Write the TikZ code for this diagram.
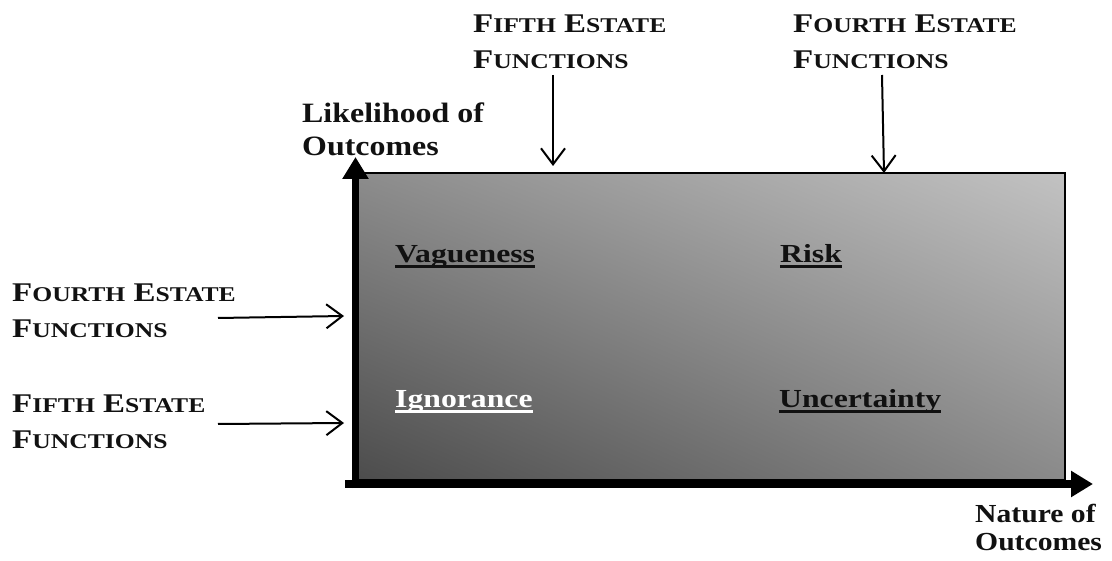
\documentclass[tikz,border=0pt]{standalone}
\usepackage{fontspec}
\usetikzlibrary{arrows.meta,shadings}
\setmainfont{Liberation Serif}
% widened serif faces for the labels
\newfontfamily\wideserif[FakeStretch=1.22]{Liberation Serif}
\newfontfamily\axisserif[FakeStretch=1.14]{Liberation Serif}
% underlined word: a rule drawn just below the baseline, in the text colour
\newcommand\underword[1]{\setbox0\hbox{#1}\rlap{\vrule width\wd0 height -2.4pt depth 4.9pt}\box0}
% small capitals built from a full-size initial and smaller capitals
\newcommand\smcap[2]{#1{\fontsize{21}{36}\selectfont#2}}

\definecolor{shadeUL}{HTML}{8C8C8C}
\definecolor{shadeUR}{HTML}{C2C2C2}
\definecolor{shadeLL}{HTML}{4C4C4C}
\definecolor{shadeLR}{HTML}{8A8A8A}
\definecolor{ink}{HTML}{111111}

\begin{document}
\begin{tikzpicture}[x=1pt,y=-1pt,
  estate/.style={font=\wideserif\bfseries\fontsize{27}{36}\selectfont,
    align=left, inner sep=0pt, anchor=north west, text=ink},
  axislabel/.style 2 args={font=\axisserif\bfseries\fontsize{#1}{#2}\selectfont,
    align=left, inner sep=0pt, anchor=north west, text=ink},
  quadrant/.style={font=\wideserif\bfseries\fontsize{26}{30}\selectfont,
    inner sep=0pt, anchor=base west, text=ink},
  field/.style={rectangle, draw=black, line width=2pt, inner sep=0pt,
    shading=bilinear interpolation,
    upper left=shadeUL, upper right=shadeUR,
    lower left=shadeLL, lower right=shadeLR},
  pointer/.style={line width=2pt, -{Straight Barb[length=16pt,width=24pt]}},
  axisline/.style={line width=7.5pt, -{Triangle[length=22pt,width=25pt]}}]
\useasboundingbox (0,0) rectangle (1112,561);

% shaded outcome field
\node[field, minimum width=710pt, minimum height=307pt] (field) at (710,326.5) {};

% axes
\coordinate (yfoot) at (355.5,488);
\coordinate (ytip) at (355.5,157);
\coordinate (xfoot) at (345,484);
\coordinate (xtip) at (1093,484);
\draw[axisline] (yfoot) -- (ytip);
\draw[axisline] (xfoot) -- (xtip);

% axis titles
\node[axislabel={28}{33}] (likelihood) at (302,103) {Likelihood of\\Outcomes};
\node[axislabel={26}{28}] (nature) at (975,504) {Nature of\\Outcomes};

% quadrant names
\node[quadrant] (vague) at (395,263) {\underword{Vagueness}};
\node[quadrant] (risk) at (780,263) {\underword{Risk}};
\node[quadrant, text=white] (ignorance) at (395,408) {\underword{Ignorance}};
\node[quadrant] (uncertainty) at (779,408) {\underword{Uncertainty}};

% estate labels
\node[estate] (fifthtop) at (473,14.5) {\smcap{F}{IFTH} \smcap{E}{STATE}\\\smcap{F}{UNCTIONS}};
\node[estate] (fourthtop) at (793,14.5) {\smcap{F}{OURTH} \smcap{E}{STATE}\\\smcap{F}{UNCTIONS}};
\node[estate] (fourthleft) at (12,284) {\smcap{F}{OURTH} \smcap{E}{STATE}\\\smcap{F}{UNCTIONS}};
\node[estate] (fifthleft) at (12,395) {\smcap{F}{IFTH} \smcap{E}{STATE}\\\smcap{F}{UNCTIONS}};

% pointers onto the field
\coordinate (p5top-s) at (553,75);
\coordinate (p5top-e) at (553,166);
\coordinate (p4top-s) at (882,75);
\coordinate (p4top-e) at (884,173);
\coordinate (p4left-s) at (218,318);
\coordinate (p4left-e) at (344,316);
\coordinate (p5left-s) at (218,424);
\coordinate (p5left-e) at (344,423);
\draw[pointer] (p5top-s) -- (p5top-e);
\draw[pointer] (p4top-s) -- (p4top-e);
\draw[pointer] (p4left-s) -- (p4left-e);
\draw[pointer] (p5left-s) -- (p5left-e);
\end{tikzpicture}
\end{document}
